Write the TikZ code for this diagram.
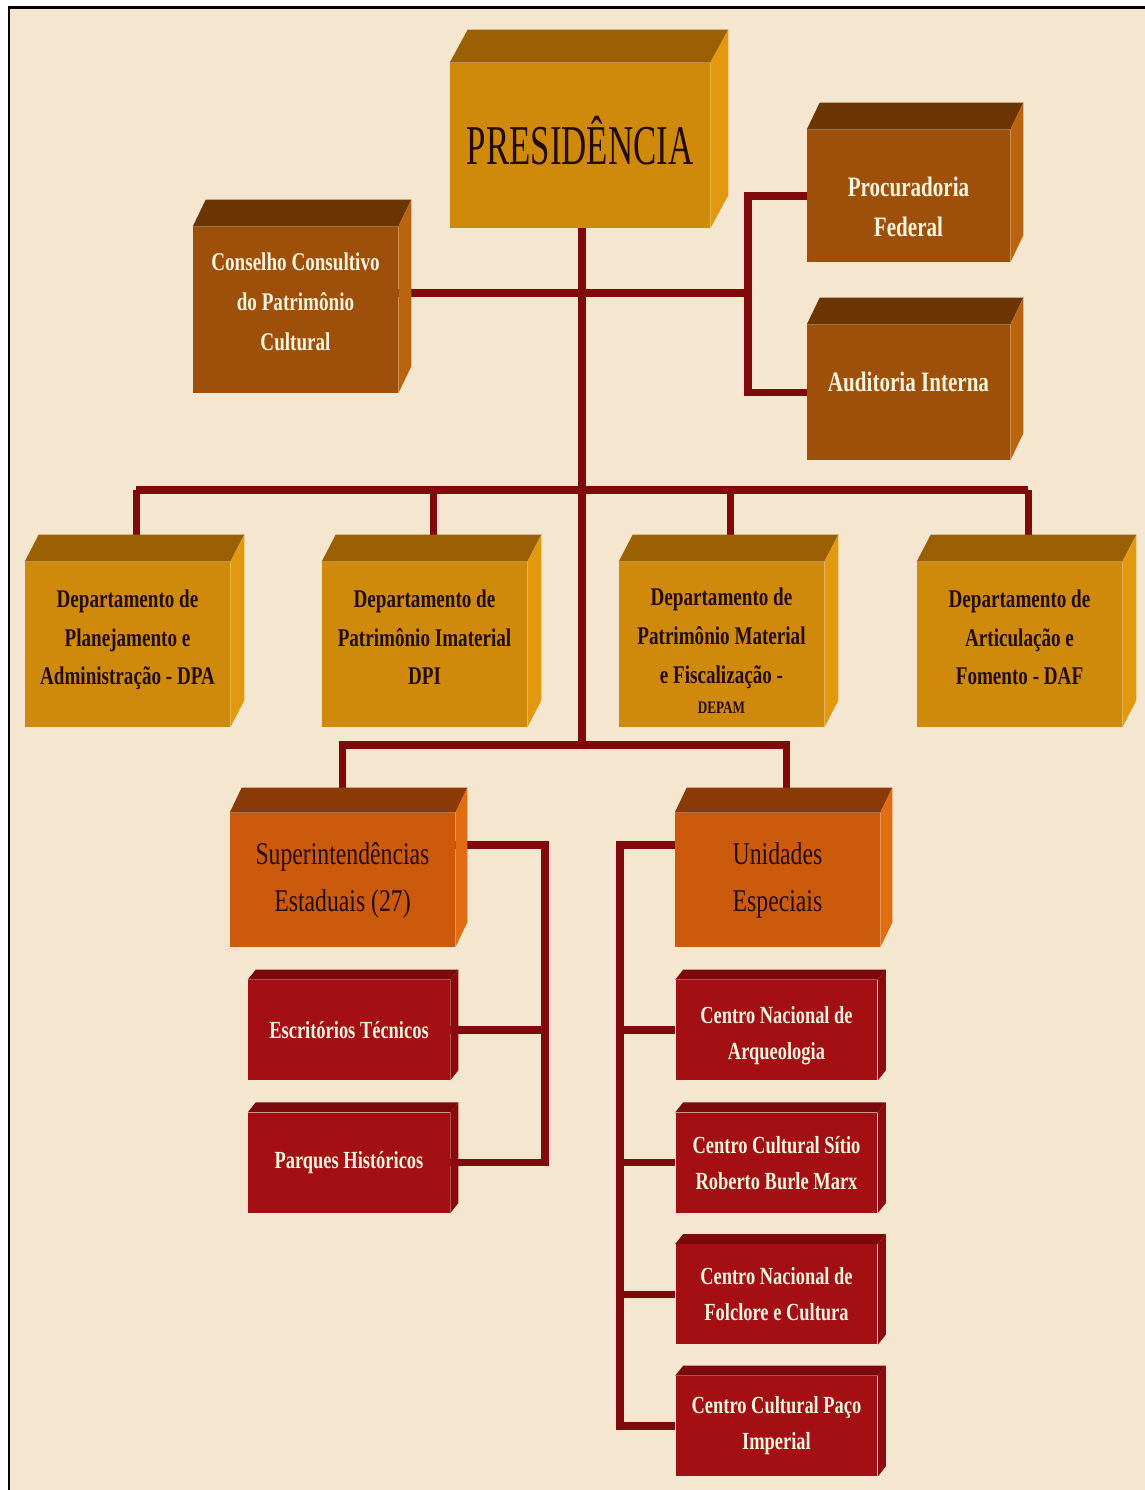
\documentclass[tikz,border=0pt]{standalone}
\usepackage{fontspec}
\setmainfont[FakeStretch=0.75]{Liberation Serif}
\newfontfamily\presfont[FakeStretch=0.62]{Liberation Serif}
\usetikzlibrary{positioning}

\definecolor{fundo}{HTML}{F5E6CF}
\definecolor{linha}{HTML}{800A0A}
\definecolor{ouro}{HTML}{CF8A0C}
\definecolor{ourotopo}{HTML}{9C6004}
\definecolor{ourolado}{HTML}{E2980F}
\definecolor{marrom}{HTML}{9E500B}
\definecolor{marromtopo}{HTML}{6C3604}
\definecolor{marromlado}{HTML}{BA640F}
\definecolor{laranja}{HTML}{CB5A0C}
\definecolor{laranjatopo}{HTML}{8A3A06}
\definecolor{laranjalado}{HTML}{E26C12}
\definecolor{vinho}{HTML}{A30F12}
\definecolor{vinhotopo}{HTML}{7C0A0C}
\definecolor{vinholado}{HTML}{8C0A0D}
\definecolor{escuro}{HTML}{240C02}
\definecolor{creme}{HTML}{FFF4DE}

\pgfdeclarelayer{fundo}
\pgfdeclarelayer{linhas}
\pgfsetlayers{fundo,linhas,main}

\begin{document}
\begin{tikzpicture}[x=0.02cm,y=-0.02cm,node distance=0.62cm,
      caixa/.style n args={4}{rectangle,inner sep=0pt,align=center,fill=#1,
        append after command={\pgfextra{
          \fill[#2] (\tikzlastnode.north west) -- ++#4 -- ([shift={#4}]\tikzlastnode.north east) -- (\tikzlastnode.north east) -- cycle;
          \fill[#3] (\tikzlastnode.north east) -- ++#4 -- ([shift={#4}]\tikzlastnode.south east) -- (\tikzlastnode.south east) -- cycle;}}},
      presid/.style={caixa={ouro}{ourotopo}{ourolado}{(18,-33)},minimum width=5.2cm,minimum height=3.3cm,
        text=escuro,font=\presfont\fontsize{32}{36}\selectfont},
      depto/.style={caixa={ouro}{ourotopo}{ourolado}{(14,-27)},minimum width=4.1cm,minimum height=3.3cm,
        text=escuro,font=\bfseries\fontsize{14.5}{22}\selectfont},
      assessor/.style={caixa={marrom}{marromtopo}{marromlado}{(13,-27)},minimum width=4.06cm,
        text=creme,font=\bfseries\fontsize{16}{22.8}\selectfont},
      regional/.style={caixa={laranja}{laranjatopo}{laranjalado}{(12,-25)},minimum width=4.1cm,minimum height=2.68cm,
        text=escuro,font=\fontsize{18}{26.7}\selectfont},
      unidade/.style={caixa={vinho}{vinhotopo}{vinholado}{(8,-10)},minimum width=4.04cm,minimum height=2cm,
        text=creme,font=\bfseries\fontsize{14}{20.5}\selectfont},
      linha/.style={draw=linha,line width=0.15cm}]
  \useasboundingbox (0,0) rectangle (1145,1490);

  % topo
  \node[presid] (pres) at (580,145.5) {PRESIDÊNCIA\rule[-6pt]{0pt}{0pt}};
  \node[assessor,minimum width=4.1cm,minimum height=3.32cm,font=\bfseries\fontsize{14.5}{22.8}\selectfont]
    (conselho) at (295.5,310) {Conselho Consultivo\\do Patrimônio\\Cultural\rule[-9pt]{0pt}{0pt}};
  \node[assessor,minimum height=2.64cm] (procur) at (908.5,196) {\rule{0pt}{24pt}Procuradoria\\Federal};
  \node[assessor,minimum height=2.7cm] (audit) at (908.5,392.5) {Auditoria Interna\rule[-12pt]{0pt}{0pt}};

  % departamentos
  \node[depto] (dpa) at (127.5,644.5) {Departamento de\\Planejamento e\\Administração - DPA\rule[-8pt]{0pt}{0pt}};
  \node[depto] (dpi) at (424.5,644.5) {Departamento de\\Patrimônio Imaterial\\DPI\rule[-8pt]{0pt}{0pt}};
  \node[depto] (depam) at (721.5,644.5) {\rule{0pt}{17pt}Departamento de\\Patrimônio Material\\e Fiscalização -\\[-5pt]{\fontsize{10}{12}\selectfont DEPAM}};
  \node[depto] (daf) at (1019.5,644.5) {Departamento de\\Articulação e\\Fomento - DAF\rule[-8pt]{0pt}{0pt}};

  % superintendencias e unidades
  \node[regional,minimum width=4.5cm] (sup) at (342.5,880) {Superintendências\\Estaduais (27)};
  \node[regional] (unid) at (777.5,880) {Unidades\\Especiais};
  \node[unidade] (escrit) at (349,1030) {Escritórios Técnicos};
  \node[unidade] (parques) [below=0.64cm of escrit] {Parques Históricos};
  \node[unidade] (arqueo) at (776.5,1030) {\rule{0pt}{16pt}Centro Nacional de\\Arqueologia};
  \node[unidade] (sitio) [below=0.64cm of arqueo] {Centro Cultural Sítio\\Roberto Burle Marx};
  \node[unidade] (folclore) [below=of sitio] {Centro Nacional de\\Folclore e Cultura};
  \node[unidade] (paco) [below=of folclore] {Centro Cultural Paço\\Imperial};

  \coordinate (cj) at (748,293);
  \coordinate (barra) at (582,490);
  \coordinate (base) at (582,745);
  \coordinate (sj) at (545,845);
  \coordinate (uj) at (620,845);

  \begin{pgfonlayer}{fundo}
    \fill[fundo] (9,8) rectangle (1145,1490);
    \draw[line width=0.06cm] (9,1490) -- (9,8) -- (1145,8);
  \end{pgfonlayer}

  \begin{pgfonlayer}{linhas}
    \draw[linha] (pres.south -| base) -- (base);
    \draw[linha] (conselho.east |- cj) -- (cj);
    \draw[linha] (procur.west) -| (cj) |- (audit.west);
    \draw[linha] ([xshift=5pt]dpa.north |- barra) -- ([xshift=5pt]daf.north |- barra);
    \foreach \d in {dpa,dpi,depam,daf}
      \draw[linha] ([xshift=5pt]\d.north |- barra) -- ([xshift=5pt,yshift=8pt]\d.north);
    \draw[linha] ([yshift=7pt]sup.north) |- ([xshift=5pt]unid.north |- base) -- ([xshift=5pt,yshift=7pt]unid.north);
    \draw[linha] (sup.east |- sj) -- (sj) |- (parques.east);
    \draw[linha] (escrit.east) -- (escrit.east -| sj);
    \draw[linha] (unid.west |- uj) -- (uj) |- (paco.west);
    \foreach \c in {arqueo,sitio,folclore}
      \draw[linha] (\c.west) -- (\c.west -| uj);
  \end{pgfonlayer}
\end{tikzpicture}
\end{document}
